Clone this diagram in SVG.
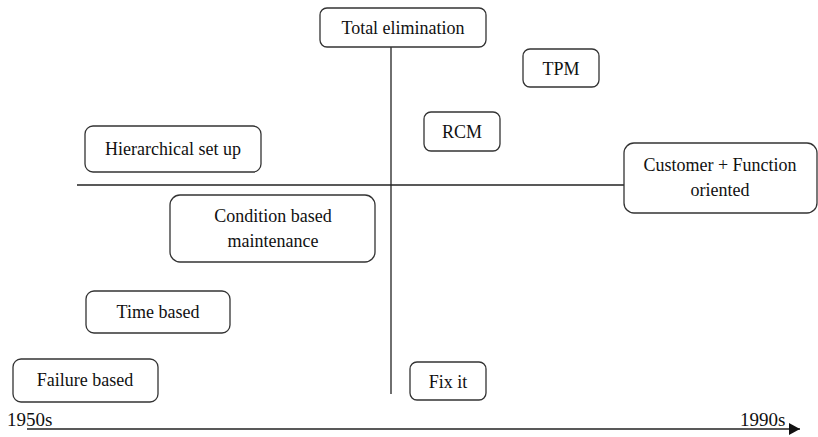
<svg xmlns="http://www.w3.org/2000/svg" width="818" height="437" viewBox="0 0 818 437">
<style>
.box{fill:#fff;stroke:#333;stroke-width:1.3}
.t{font-family:'Liberation Serif',Tinos,'DejaVu Serif',serif;font-size:18px;fill:#111;text-anchor:middle}
.ax{font-family:'Liberation Serif',Tinos,'DejaVu Serif',serif;font-size:19px;fill:#111}
.ln{stroke:#222;stroke-width:1.3;fill:none}
</style>
<defs>
<marker id="arr" markerWidth="12" markerHeight="12" refX="11" refY="6" orient="auto" markerUnits="userSpaceOnUse">
<path d="M0,0 L11,6 L0,12 Z" fill="#111"/>
</marker>
</defs>
<g id="connectors">
<line class="ln" x1="391" y1="47" x2="391" y2="394"/>
<line class="ln" x1="77" y1="185" x2="624" y2="185"/>
<line class="ln" x1="27" y1="429" x2="800" y2="429" marker-end="url(#arr)"/>
</g>
<g id="total"><rect class="box" x="320" y="8" width="166" height="39" rx="7"/><text class="t" x="403" y="34">Total elimination</text></g>
<g id="tpm"><rect class="box" x="523" y="49" width="76" height="38" rx="7"/><text class="t" x="561" y="75">TPM</text></g>
<g id="rcm"><rect class="box" x="424" y="112" width="76" height="39" rx="7"/><text class="t" x="462" y="138">RCM</text></g>
<g id="customer"><rect class="box" x="624" y="143" width="193" height="70" rx="10"/><text class="t" x="720" y="171">Customer + Function</text><text class="t" x="720" y="196">oriented</text></g>
<g id="hierarchical"><rect class="box" x="85" y="126" width="176" height="46" rx="8"/><text class="t" x="173" y="155">Hierarchical set up</text></g>
<g id="condition"><rect class="box" x="170" y="195" width="205" height="67" rx="10"/><text class="t" x="273" y="222">Condition based</text><text class="t" x="273" y="247">maintenance</text></g>
<g id="time"><rect class="box" x="86" y="291" width="144" height="42" rx="8"/><text class="t" x="158" y="318">Time based</text></g>
<g id="failure"><rect class="box" x="13" y="359" width="145" height="43" rx="8"/><text class="t" x="85" y="386">Failure based</text></g>
<g id="fixit"><rect class="box" x="410" y="362" width="76" height="38" rx="7"/><text class="t" x="448" y="388">Fix it</text></g>
<g id="axis-labels"><text class="ax" x="7" y="426">1950s</text><text class="ax" x="740" y="426">1990s</text></g>
</svg>
